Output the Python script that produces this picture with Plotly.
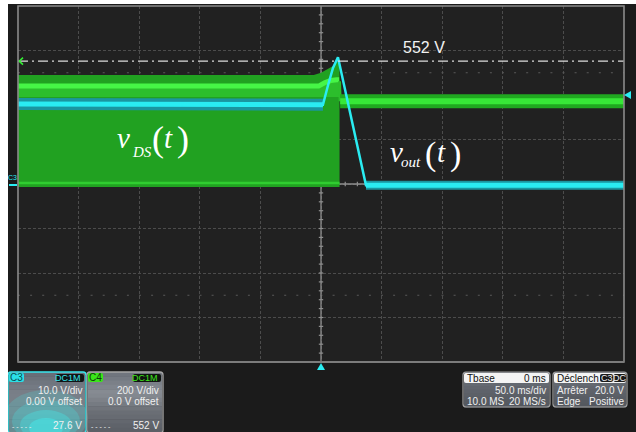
import plotly.graph_objects as go

# ---------------- data ----------------
V_PER_DIV_C4 = 200.0      # green channel C4 : vDS
V_PER_DIV_C3 = 10.0       # cyan channel  C3 : vout
MS_PER_DIV = 50.0

# vDS : switching envelope before turn-off (ms, V)
vds_env_t = [-250, -6, 0, 5, 10, 13.5, 14.5, 15.3]
vds_env_top = [490, 490, 500, 515, 530, 548, 552, 552]
vds_env_bottom = -13
# dominant upper level of the switching waveform (bright line)
vds_level_t = [-250, -2, 3, 8, 13, 15.0]
vds_level_v = [440, 440, 455, 465, 468, 468]
vds_mid_v = 391            # lower edge of the brighter region under the bright line
vds_low_line_v = 4         # bright bottom line
# vDS after turn-off
vds_after_t = [15.8, 250]
vds_after_v = [372, 372]

# vout (ms, V)
vout_t = [-250, 1.6, 5.8, 9.9, 14.0, 37.1, 250]
vout_v = [18.0, 17.8, 22.2, 26.1, 28.5, -0.3, -0.3]

cursor_v = 552.0           # C4 cursor
trigger_level_v = 20.0     # C3 trigger level

# info panels
c3_lines = ["10.0 V/div", "0.00 V offset", "27.6 V"]
c4_lines = ["200 V/div", "0.0 V offset", "552 V"]
tbase_rows = [("Tbase", "0 ms"), ("", "50.0 ms/div"), ("10.0 MS", "20 MS/s")]
trig_rows = [("Déclench", ""), ("Arrêter", "20.0 V"), ("Edge", "Positive")]

# ---------------- geometry helpers (screen pixels) ----------------
OFF_X, OFF_Y = 8, 4                 # page offset of the figure
W, H = 636 - OFF_X, 432 - OFF_Y
L, R, T, B = 18, 624, 6, 362        # graticule in screen pixels
PW, PH = R - L, B - T


def px(x):
    return (x - L) / PW


def py(y):
    return (B - y) / PH


def c4(v):
    return [a / V_PER_DIV_C4 for a in v]


def c3(v):
    return [a / V_PER_DIV_C3 for a in v]


GREEN_BASE = "rgb(33,161,33)"
GREEN_MID = "rgb(44,190,44)"
GREEN_BRIGHT = "rgb(70,245,70)"
CYAN_EDGE = "rgb(26,150,160)"
CYAN = "rgb(42,236,242)"

fig = go.Figure()

# dense switching region of vDS
xs = vds_env_t + vds_env_t[::-1]
ys = c4(vds_env_top) + c4([vds_env_bottom] * len(vds_env_t))
fig.add_trace(go.Scatter(x=xs, y=ys, fill="toself", fillcolor=GREEN_BASE,
                         line=dict(width=0), mode="lines", hoverinfo="skip"))
xs = vds_level_t + vds_level_t[::-1]
ys = c4(vds_level_v) + c4([vds_mid_v] * len(vds_level_t))
fig.add_trace(go.Scatter(x=xs, y=ys, fill="toself", fillcolor=GREEN_MID,
                         line=dict(width=0), mode="lines", hoverinfo="skip"))
fig.add_trace(go.Scatter(x=vds_level_t, y=c4(vds_level_v), mode="lines",
                         line=dict(color=GREEN_BRIGHT, width=5), hoverinfo="skip"))
fig.add_trace(go.Scatter(x=[vds_env_t[0], vds_env_t[-1]],
                         y=c4([vds_low_line_v, vds_low_line_v]), mode="lines",
                         line=dict(color="rgb(48,205,48)", width=2.5), hoverinfo="skip"))
fig.add_trace(go.Scatter(x=[vds_env_t[-1], vds_after_t[0]],
                         y=c4([vds_env_top[-1] - 90, vds_after_v[0]]), mode="lines",
                         line=dict(color=GREEN_MID, width=3), hoverinfo="skip"))
fig.add_trace(go.Scatter(x=vds_after_t, y=c4(vds_after_v), mode="lines",
                         line=dict(color="rgb(32,168,32)", width=14), hoverinfo="skip"))
fig.add_trace(go.Scatter(x=vds_after_t, y=c4(vds_after_v), mode="lines",
                         line=dict(color="rgb(55,232,55)", width=6), hoverinfo="skip"))

# vout
fig.add_trace(go.Scatter(x=vout_t[:2], y=c3(vout_v[:2]), mode="lines",
                         line=dict(color=CYAN_EDGE, width=12), hoverinfo="skip"))
fig.add_trace(go.Scatter(x=vout_t[-2:], y=c3(vout_v[-2:]), mode="lines",
                         line=dict(color=CYAN_EDGE, width=9), hoverinfo="skip"))
fig.add_trace(go.Scatter(x=vout_t[:2], y=c3(vout_v[:2]), mode="lines",
                         line=dict(color=CYAN, width=5), hoverinfo="skip"))
fig.add_trace(go.Scatter(x=vout_t[-2:], y=c3(vout_v[-2:]), mode="lines",
                         line=dict(color=CYAN, width=5), hoverinfo="skip"))
fig.add_trace(go.Scatter(x=vout_t, y=c3(vout_v), mode="lines",
                         line=dict(color=CYAN, width=2.5), hoverinfo="skip"))

shapes = []
annotations = []

# dotted rows at +-2.5 div
for yy in (2.5, -2.5):
    shapes.append(dict(type="line", xref="x", yref="y", x0=-250, x1=250, y0=yy, y1=yy,
                       line=dict(color="#5a5a5a", width=1.2, dash="2px,10.1px"), layer="between"))

# centre cross with minor ticks
GRAT = "#8e8e8e"
shapes.append(dict(type="line", xref="x", yref="y", x0=0, x1=0, y0=-4, y1=4,
                   line=dict(color=GRAT, width=1.3), layer="between"))
shapes.append(dict(type="line", xref="x", yref="y", x0=-250, x1=250, y0=0, y1=0,
                   line=dict(color=GRAT, width=1.3), layer="between"))
tick_dx = 2.2 * MS_PER_DIV / (PW / 10)
tick_dy = 2.2 / (PH / 8)
for k in range(-19, 20):
    yy = k * 0.2
    shapes.append(dict(type="line", xref="x", yref="y", x0=-tick_dx, x1=tick_dx, y0=yy, y1=yy,
                       line=dict(color=GRAT, width=1.2), layer="between"))
for k in range(-24, 25):
    xx = k * 10
    shapes.append(dict(type="line", xref="x", yref="y", x0=xx, x1=xx, y0=-tick_dy, y1=tick_dy,
                       line=dict(color=GRAT, width=1.2), layer="between"))

# cursor line 552 V (C4)
yc = cursor_v / V_PER_DIV_C4
shapes.append(dict(type="line", xref="x", yref="y", x0=-250, x1=250, y0=yc, y1=yc,
                   line=dict(color="#dcdcdc", width=1.3, dash="10px,4px,2px,4px"), layer="above"))
ms_px = MS_PER_DIV / (PW / 10)
div_px = 1 / (PH / 8)
shapes.append(dict(type="path", xref="x", yref="y",
                   path=f"M {-250 + 5 * ms_px},{yc + 3.5 * div_px} L {-250 + 1.2 * ms_px},{yc} "
                        f"L {-250 + 5 * ms_px},{yc - 3.5 * div_px}",
                   line=dict(color="#33ee33", width=1.6), layer="above"))

# frame
shapes.append(dict(type="rect", xref="paper", yref="paper", x0=0, x1=1, y0=0, y1=1,
                   line=dict(color="#8a8a8a", width=1.6), layer="above"))

# trigger level marker (right) and trigger position marker (bottom)
yt = trigger_level_v / V_PER_DIV_C3
shapes.append(dict(type="path", xref="paper", yref="y",
                   path=f"M {px(624)},{yt} L {px(631)},{yt + 4 * div_px} L {px(631)},{yt - 4 * div_px} Z",
                   fillcolor=CYAN, line=dict(width=0), layer="above"))
shapes.append(dict(type="path", xref="x", yref="paper",
                   path=f"M 0,{py(363)} L {-4 * ms_px},{py(370)} L {4 * ms_px},{py(370)} Z",
                   fillcolor=CYAN, line=dict(width=0), layer="above"))

# C3 ground marker on the left
shapes.append(dict(type="line", xref="paper", yref="paper", x0=px(9), x1=px(17),
                   y0=py(185), y1=py(185), line=dict(color=CYAN, width=2)))
annotations.append(dict(text="C3", x=px(12.5), y=py(178), xref="paper", yref="paper",
                        showarrow=False, xanchor="center", yanchor="middle",
                        font=dict(family="Liberation Sans", size=7, color=CYAN)))

# 552 V label
annotations.append(dict(text="552 V", x=px(424), y=py(48), xref="paper", yref="paper",
                        showarrow=False, xanchor="center", yanchor="middle",
                        font=dict(family="Liberation Sans", size=16, color="#f2f2f2")))

SERIF = "Liberation Serif"


def math_label(pieces):
    # pieces: (text, font size, left x, baseline y, italic)
    for t_, size, x, base, ital in pieces:
        t = f"<i>{t_}</i>" if ital else t_
        annotations.append(dict(text=t, x=px(x), y=py(base - 0.3375 * size), xref="paper", yref="paper",
                                showarrow=False, xanchor="left", yanchor="middle", borderpad=0,
                                font=dict(family=SERIF, size=size, color="#ffffff")))


math_label([("v", 29, 116, 148, True), ("DS", 15, 131, 157, True), ("(", 36, 151, 151, False),
            ("t", 29, 163, 148, True), (")", 36, 176, 151, False)])
math_label([("v", 29, 389, 162, True), ("out", 15, 400, 167, True), ("(", 34, 424, 165, False),
            ("t", 29, 436, 162, True), (")", 34, 449, 165, False)])


# ---------------- info panels ----------------
def rrect_path(x0, y0, x1, y1, r=3):
    ax, ay = r / PW, r / PH
    X0, X1, Y0, Y1 = px(x0), px(x1), py(y1), py(y0)
    return (f"M {X0 + ax},{Y1} L {X1 - ax},{Y1} Q {X1},{Y1} {X1},{Y1 - ay} "
            f"L {X1},{Y0 + ay} Q {X1},{Y0} {X1 - ax},{Y0} L {X0 + ax},{Y0} "
            f"Q {X0},{Y0} {X0},{Y0 + ay} L {X0},{Y1 - ay} Q {X0},{Y1} {X0 + ax},{Y1} Z")


def grad(x0, y0, x1, y1, stops, n=14):
    for i in range(n):
        f = i / (n - 1)
        seg = min(int(f * (len(stops) - 1)), len(stops) - 2)
        lf = f * (len(stops) - 1) - seg
        c = [int(stops[seg][j] + (stops[seg + 1][j] - stops[seg][j]) * lf) for j in range(3)]
        ya = y0 + (y1 - y0) * i / n
        yb = y0 + (y1 - y0) * (i + 1) / n
        shapes.append(dict(type="rect", xref="paper", yref="paper", x0=px(x0 + 1), x1=px(x1 - 1),
                           y0=py(yb + 0.5), y1=py(ya), fillcolor=f"rgb({c[0]},{c[1]},{c[2]})",
                           line=dict(width=0), layer="above"))


def txt(s, x, y, anchor, color="#f0f0f0", size=10):
    annotations.append(dict(text=s, x=px(x), y=py(y), xref="paper", yref="paper", showarrow=False,
                            xanchor=anchor, yanchor="middle",
                            font=dict(family="Liberation Sans", size=size, color=color)))


def box(x0, y0, x1, y1, fill):
    shapes.append(dict(type="path", xref="paper", yref="paper", path=rrect_path(x0, y0, x1, y1, 2),
                       fillcolor=fill, line=dict(width=0), layer="above"))


# C3 panel
grad(8, 372, 86, 432, [(104, 110, 120), (122, 128, 137), (120, 126, 134), (110, 116, 124)])
for rx, ry, op in [(42, 22, 0.18), (34, 17, 0.22), (26, 12, 0.3), (17, 8, 0.4)]:
    shapes.append(dict(type="circle", xref="paper", yref="paper", x0=px(46 - rx), x1=px(46 + rx),
                       y0=py(434 + ry * 0.5), y1=py(434 - ry * 2), fillcolor="#40f4f4",
                       opacity=op, line=dict(width=0), layer="above"))
shapes.append(dict(type="path", xref="paper", yref="paper", path=rrect_path(8, 372, 86, 433, 3),
                   line=dict(color="#3ae6ee", width=1.5), layer="above"))
box(9, 373, 24, 382, "#2adfe6")
txt("C3", 16.5, 377.7, "center", color="#0c4d52", size=10)
box(56, 374, 84, 382, "#101416")
txt("DC1M", 83, 378, "right", color="#35e3ea", size=9)
txt(c3_lines[0], 84, 390.5, "right")
txt(c3_lines[1], 84, 401.5, "right")
txt("- - - - -", 10, 426, "left", size=7)
txt(c3_lines[2], 84, 425.5, "right")

# C4 panel
grad(87, 372, 163, 432, [(112, 117, 126), (136, 141, 148), (108, 112, 119), (92, 96, 103)])
shapes.append(dict(type="path", xref="paper", yref="paper", path=rrect_path(87, 372, 163, 433, 3),
                   line=dict(color="#a6a6a6", width=1.3), layer="above"))
box(88, 373, 103, 382, "#3ae619")
txt("C4", 95.5, 377.7, "center", color="#0d3d08", size=10)
box(133, 374, 161, 382, "#101410")
txt("DC1M", 160, 378, "right", color="#3ee61e", size=9)
txt(c4_lines[0], 161, 390.5, "right")
txt(c4_lines[1], 161, 401.5, "right")
txt("- - - - -", 89, 426, "left", size=7)
txt(c4_lines[2], 161, 425.5, "right")

# Tbase panel
grad(463, 372, 550, 407, [(110, 115, 123), (96, 100, 108), (84, 88, 95)], n=10)
box(464, 373, 549, 383, "#f4f4f4")
shapes.append(dict(type="path", xref="paper", yref="paper", path=rrect_path(463, 372, 550, 407, 3),
                   line=dict(color="#a0a0a0", width=1.2), layer="above"))
txt(tbase_rows[0][0], 465, 378, "left", color="#111111")
txt(tbase_rows[0][1], 548, 378, "right", color="#111111")
txt(tbase_rows[1][1], 548, 390, "right")
txt(tbase_rows[2][0], 465, 401, "left")
txt(tbase_rows[2][1], 548, 401, "right")

# trigger panel
grad(553, 372, 627, 407, [(110, 115, 123), (96, 100, 108), (84, 88, 95)], n=10)
box(554, 373, 626, 383, "#f4f4f4")
box(600, 374, 613, 382, "#1a1a1a")
box(613.5, 374, 626, 382, "#1a1a1a")
shapes.append(dict(type="path", xref="paper", yref="paper", path=rrect_path(553, 372, 627, 407, 3),
                   line=dict(color="#a0a0a0", width=1.2), layer="above"))
txt(trig_rows[0][0], 555, 378, "left", color="#111111")
txt("C3", 606.5, 378, "center", color="#f0f0f0", size=9)
txt("DC", 619.8, 378, "center", color="#f0f0f0", size=9)
txt(trig_rows[1][0], 555, 390, "left")
txt(trig_rows[1][1], 626, 390, "right")
txt(trig_rows[2][0], 555, 401, "left")
txt(trig_rows[2][1], 626, 401, "right")

# bottom border line of the graticule area
shapes.append(dict(type="line", xref="paper", yref="paper", x0=0, x1=1, y0=0, y1=0,
                   line=dict(color="#7c7c7c", width=2), layer="above"))

GRID = "#4c4c4c"
fig.update_layout(
    width=W, height=H,
    margin=dict(l=L - OFF_X, r=636 - R, t=T - OFF_Y, b=432 - B, pad=0),
    paper_bgcolor="#1b1b1b", plot_bgcolor="#212121",
    showlegend=False,
    shapes=shapes, annotations=annotations,
    xaxis=dict(range=[-5 * MS_PER_DIV, 5 * MS_PER_DIV], tick0=0, dtick=MS_PER_DIV,
               showgrid=True, gridcolor=GRID, gridwidth=1.2, griddash="3px,2px",
               zeroline=False, showticklabels=False, ticks="", fixedrange=True),
    yaxis=dict(range=[-4, 4], tick0=0, dtick=1,
               showgrid=True, gridcolor=GRID, gridwidth=1.2, griddash="3px,2px",
               zeroline=False, showticklabels=False, ticks="", fixedrange=True),
)

fig.write_html("out.html", config={"displayModeBar": False},
               post_script="document.body.style.margin='4px 0 0 8px';")
